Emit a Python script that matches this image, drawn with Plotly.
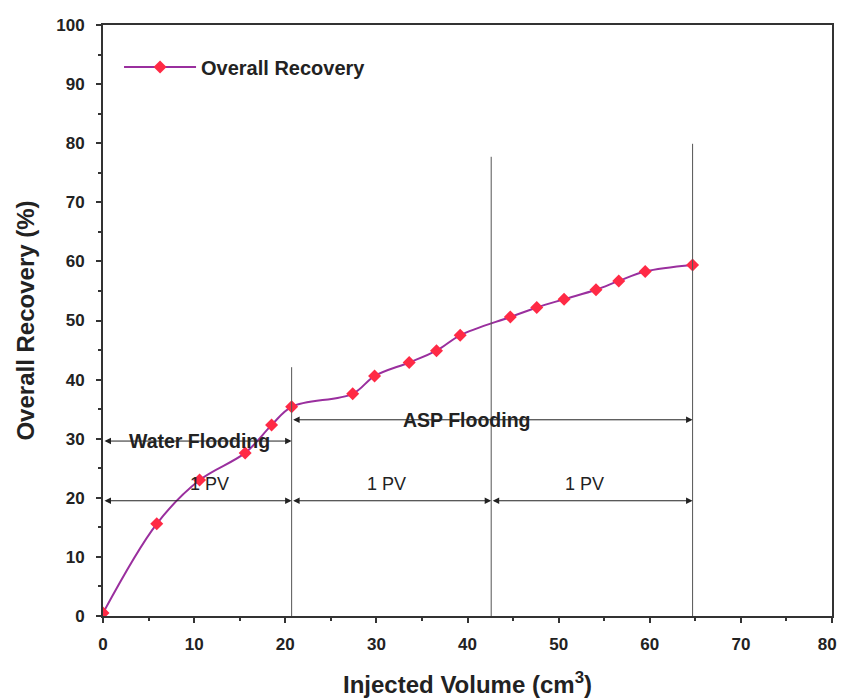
import plotly.graph_objects as go

# Data
volume = [0, 5.9, 10.6, 15.6, 18.5, 20.7, 27.4, 29.8, 33.6, 36.6, 39.2,
          44.7, 47.6, 50.6, 54.1, 56.6, 59.5, 64.7]
recovery = [0.5, 15.6, 23.0, 27.6, 32.3, 35.4, 37.6, 40.6, 42.9, 44.9, 47.5,
            50.6, 52.2, 53.6, 55.2, 56.7, 58.3, 59.4]

boundary_x = [20.7, 42.6, 64.7]
boundary_top = [42.1, 77.7, 79.9]

phase_labels = ["Water Flooding", "ASP Flooding"]
phase_start = [0, 20.7]
phase_end = [20.7, 64.7]
phase_y = [29.6, 33.2]
phase_label_x = [10.6, 39.9]

pv_labels = ["1 PV", "1 PV", "1 PV"]
pv_start = [0, 20.7, 42.6]
pv_end = [20.7, 42.6, 64.7]
pv_y = 19.5
pv_label_x = [11.7, 31.1, 52.8]
pv_label_y = 22.3

x_ticks = [0, 10, 20, 30, 40, 50, 60, 70, 80]
y_ticks = [0, 10, 20, 30, 40, 50, 60, 70, 80, 90, 100]

FONT = "Liberation Sans, Arial, sans-serif"

fig = go.Figure()
fig.add_trace(go.Scatter(
    x=volume, y=recovery, mode="lines+markers", name="<b>Overall Recovery</b>",
    line=dict(color="#9a2f9e", width=2, shape="spline", smoothing=1.0),
    marker=dict(symbol="diamond", size=10, color="#ff2a45",
                line=dict(width=0)),
))

shapes = []
for bx, bt in zip(boundary_x, boundary_top):
    shapes.append(dict(type="line", xref="x", yref="y", x0=bx, x1=bx, y0=0, y1=bt,
                       line=dict(color="#555555", width=1)))

annotations = []
def darrow(x0, x1, y):
    annotations.append(dict(x=x1, y=y, ax=x0, ay=y, xref="x", yref="y",
                            axref="x", ayref="y", showarrow=True, text="",
                            arrowhead=2, startarrowhead=2, arrowside="end+start",
                            arrowsize=1.3, startarrowsize=1.3, arrowwidth=1,
                            arrowcolor="#222222"))

for x0, x1, y in zip(phase_start, phase_end, phase_y):
    darrow(x0, x1, y)
for x0, x1 in zip(pv_start, pv_end):
    darrow(x0, x1, pv_y)

for lab, lx, ly in zip(phase_labels, phase_label_x, phase_y):
    annotations.append(dict(x=lx, y=ly, xref="x", yref="y", text="<b>" + lab + "</b>",
                            showarrow=False, font=dict(family=FONT, size=19.5, color="#222222")))
for lab, lx in zip(pv_labels, pv_label_x):
    annotations.append(dict(x=lx, y=pv_label_y, xref="x", yref="y", text=lab,
                            showarrow=False, font=dict(family=FONT, size=18, color="#222222")))

axis_common = dict(showline=True, linecolor="#333333", linewidth=2, mirror=True,
                   ticks="outside", ticklen=5, tickwidth=1.5, tickcolor="#333333",
                   showgrid=False, zeroline=False, automargin=False,
                   tickfont=dict(family=FONT, size=17, color="#222222"),
                   minor=dict(ticks="outside", ticklen=3, tickcolor="#333333", dtick=5))

# last x label padded so it stays inside the page edge
x_ticktext = ["<b>%d</b>" % v for v in x_ticks]
x_ticktext[-1] = x_ticktext[-1] + "\u00a0\u00a0"

fig.update_layout(
    width=845, height=698,
    margin=dict(l=95, r=21, t=17, b=90),
    paper_bgcolor="white", plot_bgcolor="white",
    font=dict(family=FONT, color="#222222"),
    xaxis=dict(range=[0, 80], tickvals=x_ticks, ticktext=x_ticktext,
               ticklabelstandoff=7,
               title=dict(text="<b>Injected Volume (cm<sup>3</sup>)</b>",
                          font=dict(family=FONT, size=24), standoff=23),
               **axis_common),
    yaxis=dict(range=[0, 100], tickvals=y_ticks,
               ticktext=["<b>%d</b>" % v for v in y_ticks],
               ticklabelstandoff=8,
               title=dict(text="<b>Overall Recovery (%)</b>",
                          font=dict(family=FONT, size=24), standoff=15),
               **axis_common),
    legend=dict(x=0.022, y=0.962, xanchor="left", yanchor="top",
                bgcolor="rgba(0,0,0,0)", itemwidth=72,
                font=dict(family=FONT, size=20, color="#222222")),
    showlegend=True,
    shapes=shapes,
    annotations=annotations,
)

fig.write_html("out.html")
